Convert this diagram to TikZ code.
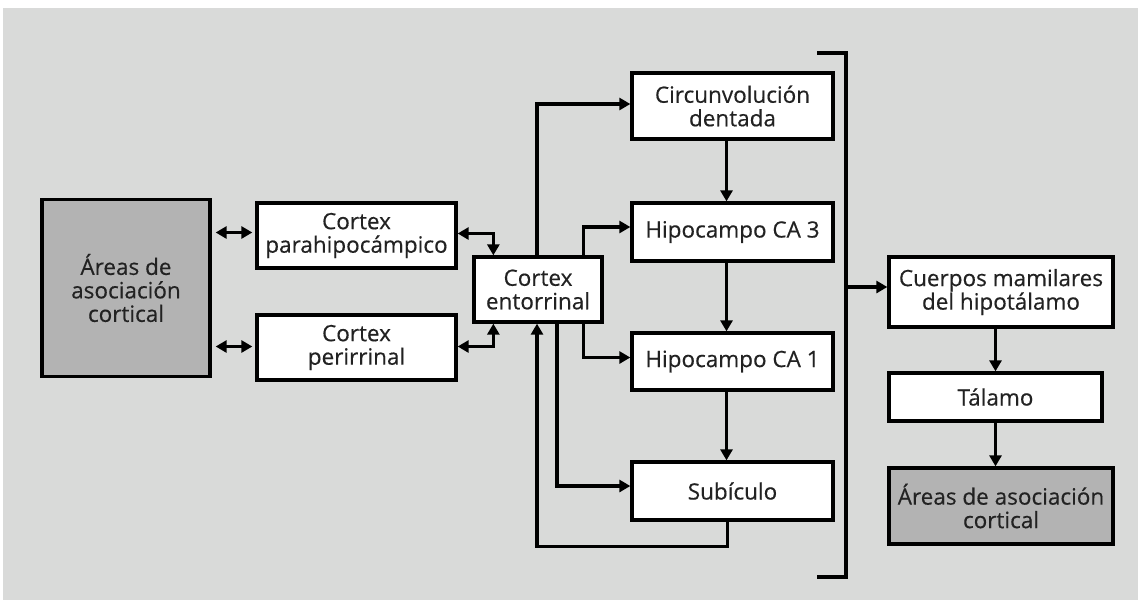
\documentclass[tikz,border=0pt]{standalone}
\usepackage{fontspec}
\setmainfont{Open Sans}[FakeBold=0.4]
\usetikzlibrary{arrows.meta,calc}
\definecolor{bggray}{HTML}{D9DAD9}
\definecolor{boxgray}{HTML}{B3B3B3}
\definecolor{txt}{HTML}{222222}
\tikzset{
  box/.style={draw=black, line width=3.3pt, fill=white, align=center, inner sep=0pt,
    text=txt, font=\fontsize{22.5}{23.5}\selectfont},
  graybox/.style={box, fill=boxgray},
  conn/.style={line width=3.2pt, -{Triangle[length=11pt,width=12pt]}},
  dconn/.style={line width=3.2pt, {Triangle[length=11pt,width=12pt]}-{Triangle[length=11pt,width=12pt]}},
  brack/.style={line width=3.2pt}
}
\begin{document}
\begin{tikzpicture}[x=1pt,y=-1pt]
\useasboundingbox (0,0) rectangle (1138,600);
\fill[white] (0,0) rectangle (1138,600);
\fill[bggray] (3,8) rectangle (1138,600);

\node[graybox, minimum width=168pt, minimum height=177pt] (areas1) at (126,288) {Áreas de\\asociación\\cortical};
\node[box, minimum width=199pt, minimum height=65pt] (parahipo) at (356.5,235.5) {Cortex\\parahipocámpico};
\node[box, minimum width=199pt, minimum height=65pt] (perir) at (356.5,347.5) {Cortex\\perirrinal};
\node[box, minimum width=128pt, minimum height=65pt] (entorr) at (538,289.5) {Cortex\\entorrinal};
\node[box, minimum width=201pt, minimum height=66pt] (circ) at (732.5,106) {Circunvolución\\dentada};
\node[box, minimum width=201pt, minimum height=58pt] (ca3) at (732.5,232) {Hipocampo CA 3};
\node[box, minimum width=201pt, minimum height=57pt] (ca1) at (732.5,361.5) {Hipocampo CA 1};
\node[box, minimum width=201pt, minimum height=58pt] (sub) at (732.5,491) {Subículo};
\node[box, minimum width=224pt, minimum height=70pt] (cuerpos) at (1001,292) {Cuerpos mamilares\\del hipotálamo};
\node[box, minimum width=213pt, minimum height=48pt] (talamo) at (995.5,397) {Tálamo};
\node[graybox, minimum width=224pt, minimum height=76pt] (areas2) at (1001,506) {Áreas de asociación\\cortical};

% left double arrows
\draw[dconn, shorten <=4pt, shorten >=3pt] ($(areas1.east |- parahipo)+(0,-3)$) -- ($(parahipo.west)+(0,-3)$);
\draw[dconn, shorten <=4pt, shorten >=3pt] ($(areas1.east |- perir)+(0,-1)$) -- ($(perir.west)+(0,-1)$);

% parahipo / perirrinal <-> entorrinal
\coordinate (entNW) at ($(entorr.north west)+(21,0)$);
\coordinate (entSW) at ($(entorr.south west)+(21,0)$);
\draw[dconn] ($(parahipo.east)+(0,-2)$) -| (entNW);
\draw[dconn] ($(perir.east)+(0,-1)$) -| (entSW);

% entorrinal -> middle column
\draw[conn] ($(entorr.north)+(-1,0)$) |- ($(circ.west)+(0,-2)$);
\draw[conn] ($(entorr.north east)+(-20,0)$) |- ($(ca3.west)+(0,-5)$);
\draw[conn] ($(entorr.south east)+(-20,0)$) |- ($(ca1.west)+(0,-4)$);
\draw[conn] ($(entorr.south)+(19,0)$) |- ($(sub.west)+(0,-5)$);

% subiculo -> entorrinal
\coordinate (subout) at ($(sub.south)+(-5,0)$);
\draw[conn] (subout) -- ++(0,25) -| ($(entorr.south)+(-1,0)$);

% vertical chain
\draw[conn] ($(circ.south)+(-6,0)$) -- ($(ca3.north)+(-6,0)$);
\draw[conn] ($(ca3.south)+(-6,0)$) -- ($(ca1.north)+(-6,0)$);
\draw[conn] ($(ca1.south)+(-6,0)$) -- ($(sub.north)+(-6,0)$);

% bracket
\coordinate (bt) at (846,53);
\coordinate (bb) at (846,577);
\coordinate (bm) at (846,287);
\draw[brack] (817,53) -- (bt) -- (bb) -- (817,577);
\draw[conn] (bm) -- (bm -| cuerpos.west);

% right chain
\draw[conn] (talamo.north |- cuerpos.south) -- (talamo.north);
\draw[conn] (talamo.south) -- (talamo.south |- areas2.north);
\end{tikzpicture}
\end{document}
